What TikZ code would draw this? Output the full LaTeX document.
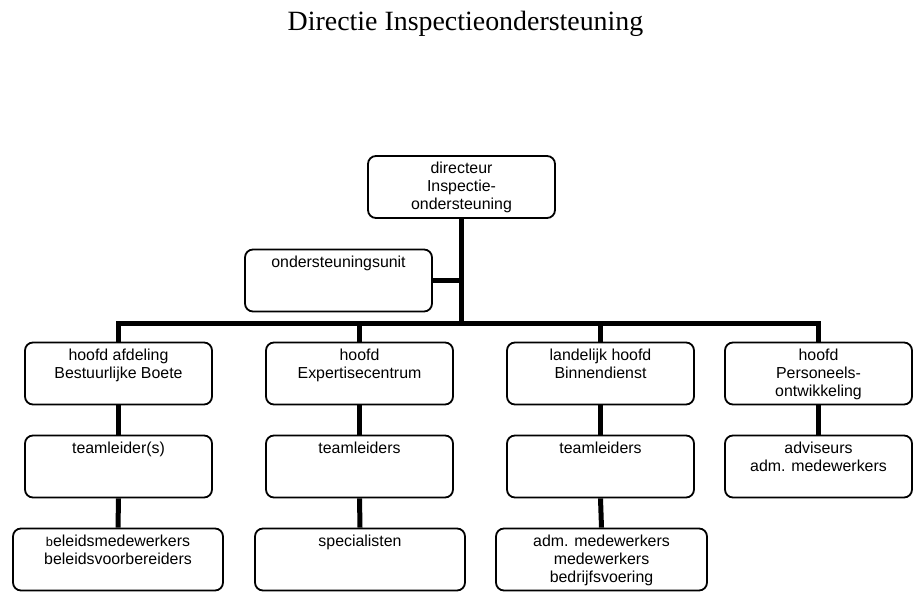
\documentclass[tikz,border=0pt]{standalone}
\usepackage{fontspec}
\setmainfont{Liberation Sans}
\newfontfamily\titlefont{Liberation Serif}
\begin{document}
\begin{tikzpicture}[x=1pt,y=-1pt,
  box/.style={draw=black, line width=1.8pt, rounded corners=8pt, fill=white, inner sep=0pt, minimum height=62pt, minimum width=187pt},
  txt/.style={anchor=north, inner sep=0pt, align=center, yshift=-6pt, font=\fontsize{15.9}{18}\selectfont},
  conn/.style={line width=5pt, line join=miter}]
\useasboundingbox (0,0) rectangle (918,604);
\fill[white] (0,0) rectangle (918,604);
\node[anchor=base, inner sep=0pt, font=\titlefont\fontsize{27.9}{30}\selectfont] (title) at (465.5,31) {Directie Inspectieondersteuning};
\coordinate (busL) at (118.5,323);
\coordinate (busR) at (818.5,323);
\node[box] (dir) at (461.5,187) {};
\node[box] (unit) at (338.5,280.5) {};
\node[box] (a1) at (118.5,373.5) {};
\node[box] (a2) at (118.5,466.5) {};
\node[box, minimum width=210pt] (a3) at (118,559.5) {};
\node[box] (b1) at (359.5,373.5) {};
\node[box] (b2) at (359.5,466.5) {};
\node[box, minimum width=210pt] (b3) at (360,559.5) {};
\node[box] (c1) at (600.5,373.5) {};
\node[box] (c2) at (600.5,466.5) {};
\node[box, minimum width=211pt] (c3) at (601.5,559.5) {};
\node[box] (d1) at (818.5,373.5) {};
\node[box] (d2) at (818.5,466.5) {};
\draw[conn] (dir.south) -- (dir.south |- busL);
\draw[conn] (unit.east) -- (unit.east -| dir.south);
\draw[conn] (a1.north) -- (busL) -- (busR) -- (d1.north);
\draw[conn] (b1.north) -- (b1.north |- busL);
\draw[conn] (c1.north) -- (c1.north |- busL);
\draw[conn] (a1.south) -- (a2.north);
\draw[conn] (a2.south) -- (a3.north);
\draw[conn] (b1.south) -- (b2.north);
\draw[conn] (b2.south) -- (b3.north);
\draw[conn] (c1.south) -- (c2.north);
\draw[conn] (c2.south) -- (c3.north);
\draw[conn] (d1.south) -- (d2.north);
\node[txt] (tdir) at (dir.north) {\strut directeur\\Inspectie-\\ondersteuning};
\node[txt] (tunit) at (unit.north) {\strut ondersteuningsunit};
\node[txt] (ta1) at (a1.north) {\strut hoofd afdeling\\Bestuurlijke Boete};
\node[txt] (ta2) at (a2.north) {\strut teamleider(s)};
\node[txt] (ta3) at (a3.north) {\strut {\fontsize{12.8}{18}\selectfont b}eleidsmedewerkers\\beleidsvoorbereiders};
\node[txt] (tb1) at (b1.north) {\strut hoofd\\Expertisecentrum};
\node[txt] (tb2) at (b2.north) {\strut teamleiders};
\node[txt] (tb3) at (b3.north) {\strut specialisten};
\node[txt] (tc1) at (c1.north) {\strut landelijk hoofd\\Binnendienst};
\node[txt] (tc2) at (c2.north) {\strut teamleiders};
\node[txt] (tc3) at (c3.north) {\strut adm. medewerkers\\medewerkers\\bedrijfsvoering};
\node[txt] (td1) at (d1.north) {\strut hoofd\\Personeels-\\ontwikkeling};
\node[txt] (td2) at (d2.north) {\strut adviseurs\\adm. medewerkers};
\end{tikzpicture}
\end{document}
